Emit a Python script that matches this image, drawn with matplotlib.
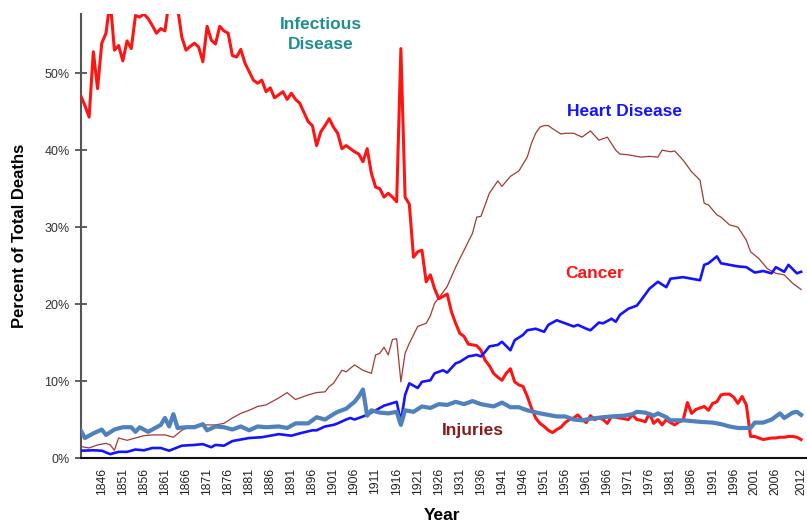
import matplotlib
matplotlib.use("Agg")
import matplotlib.pyplot as plt
from matplotlib.ticker import PercentFormatter

plt.rcParams['font.family'] = ['Liberation Sans', 'DejaVu Sans']

# red thick line (infectious disease)
inf_years = [1841, 1842, 1843, 1844, 1845, 1846, 1847, 1848, 1849, 1850, 1851, 1852, 1853, 1854, 1855,
             1856, 1857, 1858, 1859, 1860, 1861, 1862, 1863, 1864, 1865, 1866, 1867, 1868, 1869, 1870,
             1871, 1872, 1873, 1874, 1875, 1876, 1877, 1878, 1879, 1880, 1881, 1882, 1883, 1884, 1885,
             1886, 1887, 1888, 1889, 1890, 1891, 1892, 1893, 1894, 1895, 1896, 1897, 1898, 1899, 1900,
             1901, 1902, 1903, 1904, 1905, 1906, 1907, 1908, 1909, 1910, 1911, 1912, 1913, 1914, 1915,
             1916, 1917, 1918, 1919, 1920, 1921, 1922, 1923, 1924, 1925, 1926, 1927, 1928, 1929, 1930,
             1931, 1932, 1933, 1934, 1935, 1936, 1937, 1938, 1939, 1940, 1941, 1942, 1943, 1944, 1945,
             1946, 1947, 1948, 1949, 1950, 1951, 1952, 1953, 1954, 1955, 1956, 1957, 1958, 1959, 1960,
             1961, 1962, 1963, 1964, 1965, 1966, 1967, 1968, 1969, 1970, 1971, 1972, 1973, 1974, 1975,
             1976, 1977, 1978, 1979, 1980, 1981, 1982, 1983, 1984, 1985, 1986, 1987, 1988, 1989, 1990,
             1991, 1992, 1993, 1994, 1995, 1996, 1997, 1998, 1999, 2000, 2001, 2002, 2003, 2004, 2005,
             2006, 2007, 2008, 2009, 2010, 2011, 2012]
inf_vals = [47.1, 45.8, 44.3, 52.8, 48.0, 53.9, 55.2, 59.5, 53.0, 53.6, 51.6, 54.2, 53.2, 57.5, 57.3,
            57.7, 57.1, 56.2, 55.2, 55.8, 55.5, 59.5, 61.0, 58.5, 54.7, 53.0, 53.5, 53.9, 53.4, 51.5,
            56.1, 54.3, 53.8, 56.1, 55.5, 55.2, 52.3, 52.1, 53.1, 51.3, 50.2, 49.1, 48.7, 49.1, 47.6,
            48.1, 46.8, 47.2, 47.6, 46.6, 47.4, 46.6, 46.1, 44.9, 43.7, 43.2, 40.6, 42.4, 43.2, 44.1,
            43.0, 42.2, 40.2, 40.6, 40.2, 39.8, 39.5, 38.5, 40.2, 37.0, 35.2, 35.0, 33.9, 34.4, 33.9,
            33.3, 53.2, 33.9, 33.0, 26.1, 26.8, 27.0, 22.9, 23.8, 22.0, 20.7, 21.0, 21.3, 19.0, 17.5,
            16.2, 15.8, 14.8, 14.7, 14.6, 14.0, 12.7, 12.0, 11.0, 10.5, 10.1, 11.0, 11.6, 9.9, 9.5,
            9.3, 8.0, 6.5, 5.2, 4.5, 4.1, 3.6, 3.3, 3.7, 4.0, 4.6, 5.0, 5.2, 5.6, 5.0,
            4.6, 5.5, 5.0, 5.2, 5.0, 4.5, 5.4, 5.3, 5.2, 5.1, 5.0, 5.6, 5.0, 4.9, 4.7,
            5.8, 4.5, 5.0, 4.3, 5.0, 4.6, 4.3, 4.7, 4.9, 7.2, 5.8, 6.3, 6.5, 6.7, 6.2,
            7.1, 7.3, 8.2, 8.3, 8.3, 7.9, 7.1, 8.0, 6.9, 2.8, 2.8, 2.6, 2.4, 2.5, 2.6,
            2.6, 2.7, 2.7, 2.8, 2.8, 2.7, 2.4]

# thin brown line
brown_years = [1841, 1843, 1845, 1847, 1848, 1849, 1850, 1852, 1854, 1856, 1858, 1861, 1863, 1865, 1867,
               1869, 1871, 1873, 1875, 1877, 1879, 1881, 1883, 1885, 1888, 1890, 1892, 1895, 1897, 1899,
               1900, 1901, 1903, 1904, 1906, 1908, 1910, 1911, 1912, 1913, 1914, 1915, 1916, 1917, 1918,
               1919, 1920, 1921, 1923, 1924, 1925, 1926, 1928, 1930, 1932, 1934, 1935, 1936, 1938, 1940,
               1941, 1943, 1945, 1947, 1948, 1949, 1950, 1951, 1952, 1953, 1955, 1956, 1958, 1960, 1962,
               1964, 1966, 1968, 1969, 1971, 1974, 1976, 1978, 1979, 1981, 1982, 1984, 1986, 1988, 1989,
               1990, 1992, 1993, 1995, 1997, 1999, 2000, 2002, 2004, 2006, 2008, 2010, 2012]
brown_vals = [1.5, 1.3, 1.7, 1.9, 1.7, 1.0, 2.6, 2.3, 2.6, 2.9, 3.0, 3.0, 2.7, 3.6, 4.1,
              4.3, 4.3, 4.3, 4.5, 5.2, 5.8, 6.2, 6.7, 6.9, 7.8, 8.5, 7.6, 8.2, 8.5, 8.6,
              9.3, 9.7, 11.4, 11.2, 12.1, 11.4, 11.0, 13.4, 13.6, 14.4, 13.4, 15.4, 15.5, 9.9, 13.6,
              14.9, 16.0, 17.1, 17.5, 18.5, 20.1, 20.8, 22.3, 24.8, 27.0, 29.2, 31.3, 31.4, 34.4, 36.0,
              35.3, 36.6, 37.3, 39.1, 40.9, 42.2, 43.0, 43.2, 43.2, 42.8, 42.1, 42.2, 42.2, 41.7, 42.5,
              41.3, 41.7, 40.0, 39.5, 39.4, 39.1, 39.2, 39.1, 40.0, 39.8, 39.9, 38.7, 37.2, 36.1, 33.1,
              32.9, 31.6, 31.3, 30.3, 30.0, 28.3, 26.8, 25.9, 24.6, 24.0, 23.8, 22.7, 21.9]

# bright blue line
blue_years = [1841, 1844, 1846, 1848, 1850, 1852, 1854, 1856, 1858, 1860, 1862, 1865, 1868, 1870, 1872,
              1873, 1875, 1877, 1879, 1881, 1884, 1886, 1888, 1891, 1893, 1896, 1897, 1899, 1901, 1902,
              1904, 1905, 1906, 1909, 1911, 1913, 1916, 1917, 1918, 1919, 1921, 1922, 1924, 1925, 1927,
              1928, 1930, 1931, 1933, 1935, 1936, 1937, 1938, 1940, 1941, 1943, 1944, 1946, 1947, 1949,
              1951, 1952, 1954, 1955, 1958, 1959, 1961, 1962, 1964, 1965, 1967, 1968, 1969, 1971, 1973,
              1974, 1976, 1978, 1980, 1981, 1984, 1986, 1988, 1989, 1990, 1992, 1993, 1995, 1997, 1999,
              2001, 2003, 2005, 2006, 2008, 2009, 2011, 2012]
blue_vals = [0.95, 1.0, 0.95, 0.5, 0.8, 0.8, 1.1, 1.0, 1.3, 1.3, 0.95, 1.6, 1.7, 1.8, 1.4,
             1.7, 1.6, 2.2, 2.4, 2.6, 2.7, 2.9, 3.1, 2.9, 3.2, 3.6, 3.6, 4.1, 4.3, 4.5,
             5.0, 5.2, 5.0, 5.6, 6.2, 6.8, 7.3, 4.7, 8.2, 9.7, 9.1, 9.9, 10.1, 11.0, 11.4,
             11.1, 12.3, 12.5, 13.2, 13.4, 13.2, 13.8, 14.5, 14.7, 15.1, 14.0, 15.3, 16.0, 16.6, 16.8,
             16.4, 17.3, 17.9, 17.7, 17.1, 17.3, 16.8, 16.6, 17.6, 17.5, 18.1, 17.7, 18.6, 19.4, 19.8,
             20.5, 22.0, 22.9, 22.2, 23.3, 23.5, 23.3, 23.1, 25.1, 25.3, 26.2, 25.3, 25.1, 24.9, 24.8,
             24.1, 24.3, 24.0, 24.8, 24.2, 25.1, 24.0, 24.2]

# thick steel blue line
steel_years = [1841, 1842, 1844, 1846, 1847, 1849, 1851, 1853, 1854, 1855, 1857, 1859, 1860, 1861, 1862,
               1863, 1864, 1866, 1868, 1870, 1871, 1873, 1875, 1877, 1879, 1881, 1883, 1885, 1888, 1890,
               1892, 1895, 1897, 1899, 1901, 1902, 1904, 1906, 1907, 1908, 1909, 1910, 1912, 1914, 1916,
               1917, 1918, 1920, 1922, 1924, 1926, 1928, 1930, 1932, 1934, 1936, 1937, 1939, 1941, 1943,
               1945, 1947, 1950, 1952, 1954, 1956, 1958, 1960, 1962, 1965, 1967, 1970, 1972, 1973, 1975,
               1977, 1978, 1980, 1981, 1984, 1986, 1988, 1991, 1993, 1995, 1997, 1999, 2000, 2001, 2003,
               2005, 2007, 2008, 2010, 2011, 2012]
steel_vals = [3.6, 2.6, 3.2, 3.7, 3.0, 3.7, 4.0, 4.0, 3.4, 4.0, 3.4, 4.0, 4.3, 5.2, 4.1,
              5.7, 3.9, 4.0, 4.0, 4.4, 3.6, 4.1, 4.0, 3.7, 4.1, 3.6, 4.1, 4.0, 4.1, 3.9,
              4.5, 4.5, 5.3, 5.0, 5.7, 6.0, 6.4, 7.3, 8.0, 8.9, 5.5, 6.2, 5.9, 5.8, 6.0,
              4.3, 6.2, 6.0, 6.7, 6.5, 7.0, 6.9, 7.3, 7.0, 7.4, 7.0, 6.9, 6.7, 7.2, 6.6,
              6.6, 6.2, 5.8, 5.6, 5.4, 5.4, 5.0, 4.9, 5.1, 5.3, 5.4, 5.5, 5.7, 6.0, 5.9,
              5.5, 5.8, 5.3, 4.9, 4.9, 4.8, 4.7, 4.6, 4.4, 4.1, 3.9, 3.9, 3.9, 4.6, 4.6,
              5.0, 5.8, 5.2, 5.9, 6.0, 5.6]

tick_years = [1846, 1851, 1856, 1861, 1866, 1871, 1876, 1881, 1886, 1891, 1896, 1901, 1906, 1911,
              1916, 1921, 1926, 1931, 1936, 1941, 1946, 1951, 1956, 1961, 1966, 1971, 1976, 1981,
              1986, 1991, 1996, 2001, 2006, 2012]

fig = plt.figure(figsize=(8.07, 5.22), dpi=100)
ax = fig.add_axes([0.1, 0.1226, 0.9, 0.8506])

ax.plot(brown_years, brown_vals, color='#a33a36', lw=0.9, zorder=2)
ax.plot(inf_years, inf_vals, color='#ff1414', lw=2.2, zorder=3)
ax.plot(blue_years, blue_vals, color='#1414ff', lw=1.9, zorder=4)
ax.plot(steel_years, steel_vals, color='#4f81bd', lw=3.0, zorder=5)

ax.set_xlim(1841, 2013.4)
ax.set_ylim(0, 57.7)
ax.set_yticks([0, 10, 20, 30, 40, 50])
ax.yaxis.set_major_formatter(PercentFormatter(xmax=100, decimals=0))
ax.set_xticks(tick_years)
ax.set_xticklabels([str(y) for y in tick_years], rotation=90)

ax.tick_params(axis='y', direction='inout', length=8, width=1.2, color='#444444',
               labelsize=9, labelcolor='#333333', pad=4)
ax.tick_params(axis='x', length=0, labelsize=8.8, labelcolor='#222222', pad=7)

for s in ['top', 'right']:
    ax.spines[s].set_visible(False)
ax.spines['left'].set_color('#555555')
ax.spines['left'].set_linewidth(1.5)
ax.spines['bottom'].set_color('#111111')
ax.spines['bottom'].set_linewidth(1.5)

ax.text(1898, 55.0, 'Infectious\nDisease', color='#1f8f8f', fontsize=12.5, fontweight='bold',
        ha='center', va='center', linespacing=1.45)
ax.text(1970, 45.0, 'Heart Disease', color='#1414ff', fontsize=12.5, fontweight='bold',
        ha='center', va='center')
ax.text(1963, 24.0, 'Cancer', color='#ff1414', fontsize=12.5, fontweight='bold',
        ha='center', va='center')
ax.text(1934, 3.6, 'Injuries', color='#8b1a1a', fontsize=12.5, fontweight='bold',
        ha='center', va='center')

fig.text(20 / 807, 1 - 236 / 522, 'Percent of Total Deaths', rotation=90, fontsize=12,
         fontweight='bold', ha='center', va='center')
fig.text(442 / 807, 1 - 515 / 522, 'Year', fontsize=12.5, fontweight='bold',
         ha='center', va='center')

fig.savefig('out.png', dpi=100)
